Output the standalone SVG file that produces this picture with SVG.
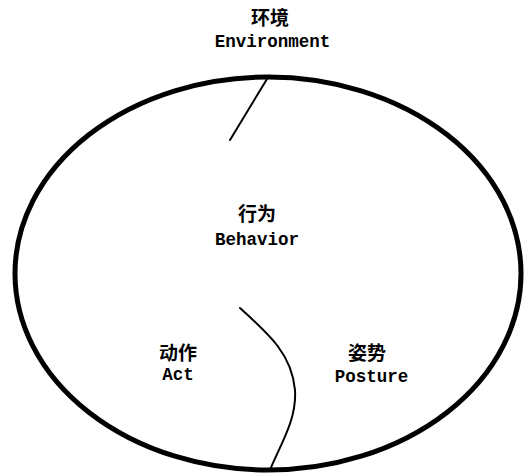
<svg xmlns="http://www.w3.org/2000/svg" width="526" height="474" viewBox="0 0 526 474">
<style>
.zh{font-family:"Noto Sans CJK SC","Noto Sans CJK JP",sans-serif;font-size:19px;font-weight:bold;fill:#000;text-anchor:middle}
.en{font-family:"Liberation Mono",monospace;font-size:17.5px;font-weight:bold;fill:#000;text-anchor:middle}
.line{fill:none;stroke:#000;stroke-width:2;stroke-linecap:round}
</style>
<rect width="526" height="474" fill="#fff"/>
<g id="behavior">
<ellipse cx="268" cy="273.5" rx="253" ry="196.5" fill="none" stroke="#000" stroke-width="5"/>
<text class="zh" x="257" y="221">行为</text>
<text class="en" x="257" y="245">Behavior</text>
</g>
<g id="environment">
<text class="zh" x="270" y="25">环境</text>
<text class="en" x="272.5" y="47">Environment</text>
</g>
<g id="act">
<text class="zh" x="178" y="360">动作</text>
<text class="en" x="178" y="380">Act</text>
</g>
<g id="posture">
<text class="zh" x="367" y="360">姿势</text>
<text class="en" x="371.5" y="382">Posture</text>
</g>
<g id="connectors">
<path class="line" d="M267,79 L230,140"/>
<path class="line" d="M240,308 C270,335 292,355 295,390 C297,420 280,445 270,470"/>
</g>
</svg>
